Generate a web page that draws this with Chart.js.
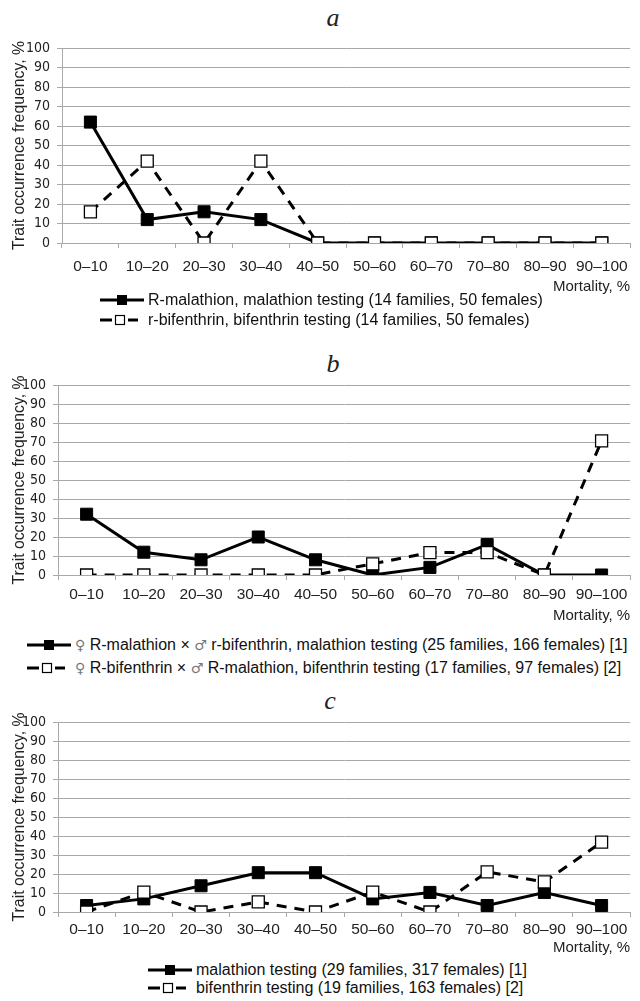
<!DOCTYPE html>
<html>
<head>
<meta charset="utf-8">
<script src="https://cdn.jsdelivr.net/npm/chart.js@4.4.0/dist/chart.umd.min.js"></script>
<style>
  body { margin: 0; background: #fff; }
  #page { position: relative; width: 640px; height: 1001px; overflow: hidden; font-family: "Liberation Sans", Arial, sans-serif; color: #111; }
  canvas { position: absolute; left: 0; }
  .ttl { position: absolute; width: 40px; margin-left: -20px; text-align: center; font: italic 26px "Liberation Serif", "Times New Roman", serif; line-height: 26px; color: #222; }
  .leg { position: absolute; height: 18px; display: flex; align-items: center; font-size: 16px; line-height: 18px; white-space: nowrap; color: #111; }
  .leg svg { flex: none; margin-right: 4px; }
  .sym { color: #777; font-family: "DejaVu Sans", sans-serif; font-size: 14px; }
</style>
</head>
<body>
<div id="page">
  <div class="ttl" style="left:333px; top:5px;">a</div>
  <canvas id="chartA" width="640" height="296" style="top:0px;"></canvas>

  <div class="ttl" style="left:333px; top:351px;">b</div>
  <canvas id="chartB" width="640" height="285" style="top:340px;"></canvas>

  <div class="ttl" style="left:330px; top:688px;">c</div>
  <canvas id="chartC" width="640" height="277" style="top:680px;"></canvas>
</div>

<script>
// categories (mortality classes)
const bins = ["0–10", "10–20", "20–30", "30–40", "40–50", "50–60", "60–70", "70–80", "80–90", "90–100"];

// a
const aMalathion = [62, 12, 16, 12, 0, 0, 0, 0, 0, 0];
const aBifenthrin = [16, 42, 0, 42, 0, 0, 0, 0, 0, 0];
const aNames = ["R-malathion, malathion testing (14 families, 50 females)",
                "r-bifenthrin, bifenthrin testing (14 families, 50 females)"];

// b
const bMalathion = [32, 12, 8, 20, 8, 0, 4, 16, 0, 0];
const bBifenthrin = [0, 0, 0, 0, 0, 5.9, 11.8, 11.8, 0, 70.6];
const bNames = ["♀ R-malathion × ♂ r-bifenthrin, malathion testing (25 families, 166 females) [1]",
                "♀ R-bifenthrin × ♂ R-malathion, bifenthrin testing (17 families, 97 females) [2]"];

// c
const cMalathion = [3.4, 6.9, 13.8, 20.7, 20.7, 6.9, 10.3, 3.4, 10.3, 3.4];
const cBifenthrin = [0, 10.5, 0, 5.3, 0, 10.5, 0, 21.1, 15.8, 36.8];
const cNames = ["malathion testing (29 families, 317 females) [1]",
                "bifenthrin testing (19 families, 163 females) [2]"];

const GRID = "#a8a8a8";
const SANS = "'Liberation Sans', Arial, sans-serif";
const NARROW = "'Liberation Sans Narrow', 'Arial Narrow', 'DejaVu Sans Condensed', sans-serif";

function drawPanel(id, solid, dashed, box) {
  return new Chart(document.getElementById(id), {
    type: "line",
    data: {
      labels: bins,
      datasets: [
        { data: solid, borderColor: "#000", borderWidth: 3, tension: 0,
          pointStyle: "rect", pointRadius: 8.5, pointBackgroundColor: "#000",
          pointBorderColor: "#000", pointBorderWidth: 1, order: 2 },
        { data: dashed, borderColor: "#000", borderWidth: 3, borderDash: [10, 8], tension: 0,
          pointStyle: "rect", pointRadius: 8.5, pointBackgroundColor: "#fff",
          pointBorderColor: "#000", pointBorderWidth: 1.3, order: 1 }
      ]
    },
    options: {
      responsive: false,
      animation: false,
      layout: { padding: { top: box.padTop, left: 0, right: 640 - box.right, bottom: 0 } },
      plugins: { legend: { display: false }, tooltip: { enabled: false } },
      scales: {
        x: {
          offset: true,
          grid: { offset: true, drawOnChartArea: false, tickLength: 5, color: GRID },
          border: { color: GRID },
          ticks: { font: { family: SANS, size: 15.5 }, color: "#222", padding: box.tickPad, maxRotation: 0, autoSkip: false },
          title: { display: true, text: "Mortality, %", align: "end", color: "#222",
                   font: { family: SANS, size: 15 }, padding: { top: 0, bottom: 0 } },
          afterFit: s => { s.height = box.xh; }
        },
        y: {
          min: 0, max: 100,
          ticks: { stepSize: 10, autoSkip: false, font: { family: NARROW, size: 14 }, color: "#222", padding: 7 },
          grid: { color: GRID, tickLength: 5 },
          border: { color: GRID },
          title: { display: true, text: "Trait occurrence frequency, %", color: "#222",
                   font: { family: SANS, size: 15.8 }, padding: { top: 10, bottom: 0 } },
          afterFit: s => { s.width = box.left; }
        }
      }
    }
  });
}

// legend rows: line with marker + text
function symbolSvg(dashed) {
  if (!dashed) {
    return '<svg width="44" height="12"><line x1="0" y1="6" x2="44" y2="6" stroke="#000" stroke-width="3"/>' +
           '<rect x="17" y="1" width="10" height="10" fill="#000"/></svg>';
  }
  return '<svg width="44" height="12"><line x1="0" y1="6" x2="12" y2="6" stroke="#000" stroke-width="3"/>' +
         '<line x1="28" y1="6" x2="38" y2="6" stroke="#000" stroke-width="3"/>' +
         '<rect x="15.5" y="1.5" width="9" height="9" fill="#fff" stroke="#000" stroke-width="1.2"/></svg>';
}

function addLegend(names, x, rows) {
  const page = document.getElementById("page");
  names.forEach((name, i) => {
    const d = document.createElement("div");
    d.className = "leg";
    d.style.left = x + "px";
    d.style.top = (rows[i] - 9) + "px";
    const txt = name.replace(/♀/g, '<span class="sym">♀</span>').replace(/♂/g, '<span class="sym">♂</span>');
    d.innerHTML = symbolSvg(i === 1) + "<span>" + txt + "</span>";
    page.appendChild(d);
  });
}

drawPanel("chartA", aMalathion, aBifenthrin, { padTop: 48, left: 62, right: 638, xh: 53, tickPad: 9 });
drawPanel("chartB", bMalathion, bBifenthrin, { padTop: 45, left: 58, right: 634, xh: 50, tickPad: 5 });
drawPanel("chartC", cMalathion, cBifenthrin, { padTop: 42, left: 58, right: 634, xh: 45, tickPad: 3 });

addLegend(aNames, 100, [300, 320]);
addLegend(bNames, 27, [645, 668]);
addLegend(cNames, 148, [970, 988]);
</script>
</body>
</html>
